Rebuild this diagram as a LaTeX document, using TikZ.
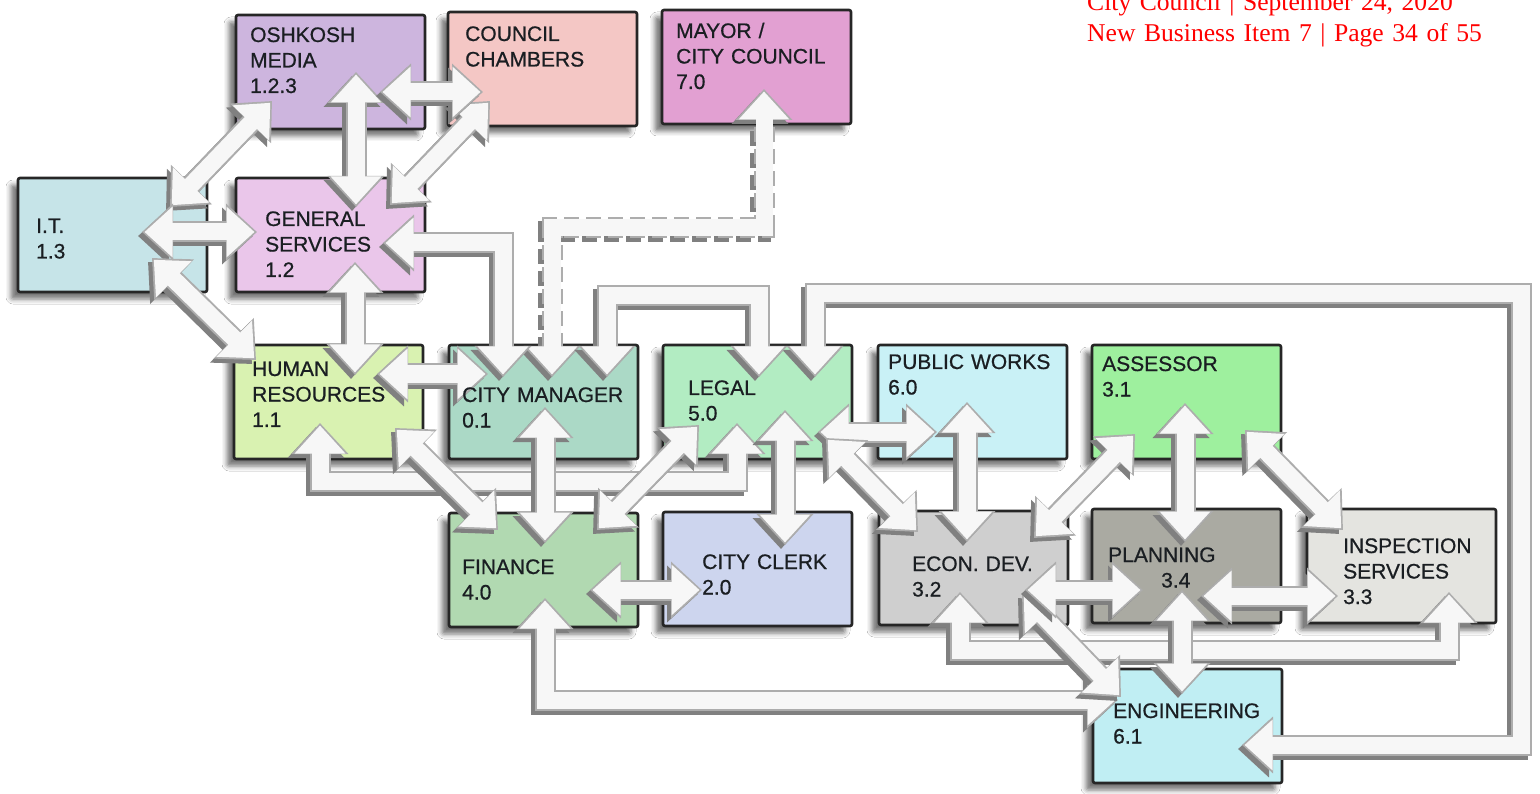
\documentclass[tikz,border=0pt]{standalone}
\usepackage{fontspec}
\setmainfont{Liberation Sans}
\newfontfamily\lblfont{Liberation Sans}[FakeBold=0.7]
\newfontfamily\redserif{Liberation Serif}
\usetikzlibrary{arrows.meta,calc,shadows.blur}
\definecolor{cOM}{HTML}{CDB5DE}
\definecolor{cCC}{HTML}{F4C7C5}
\definecolor{cMY}{HTML}{E2A0D2}
\definecolor{cIT}{HTML}{C6E4E8}
\definecolor{cGS}{HTML}{EAC6EA}
\definecolor{cHR}{HTML}{D9F2B1}
\definecolor{cCM}{HTML}{ABD9C6}
\definecolor{cLG}{HTML}{B2ECC2}
\definecolor{cPW}{HTML}{C9F1F6}
\definecolor{cAS}{HTML}{9EF09E}
\definecolor{cFN}{HTML}{B1D9B1}
\definecolor{cCL}{HTML}{CDD5EE}
\definecolor{cED}{HTML}{CFCFCF}
\definecolor{cPL}{HTML}{AAAAA2}
\definecolor{cIS}{HTML}{E4E4E0}
\definecolor{cEN}{HTML}{C0EEF3}
\definecolor{redhdr}{HTML}{FF0000}
\definecolor{lbltxt}{HTML}{1A1E22}
\tikzset{
  box/.style={draw=black!85, line width=2.6pt, rounded corners=2pt,
    minimum width=189pt, minimum height=114pt, anchor=north west,
    inner sep=0pt, outer sep=0pt,
    blur shadow={shadow xshift=-7pt, shadow yshift=-7pt, shadow blur radius=5pt, shadow opacity=55}},
  lbl/.style={anchor=base west, inner sep=0pt, align=left, text width=185pt,
    font=\lblfont\fontsize{21}{25.5}\selectfont, text=lbltxt},
  arS/.style={draw=black!50, line width=21pt, line join=miter,
    arrows={Triangle[length=31pt,width=55pt]-Triangle[length=31pt,width=55pt]},
    transform canvas={shift={(-4pt,-4pt)}}},
  arO/.style={draw=black!32, line width=21pt, line join=miter,
    arrows={Triangle[length=31pt,width=55pt]-Triangle[length=31pt,width=55pt]}},
  arI/.style={draw=white!97!black, line width=17pt, line join=miter,
    arrows={Triangle[length=28pt,width=49pt]-Triangle[length=28pt,width=49pt]},
    shorten >=2.5pt, shorten <=2.5pt},
  dsh/.style={dash pattern=on 15pt off 7pt}
}
\newcommand\fat[1]{\draw[arS] #1; \draw[arO] #1; \draw[arI] #1;}
\begin{document}
\begin{tikzpicture}[x=1pt,y=-1pt]
\useasboundingbox (0,0) rectangle (1540,794);
\clip (0,0) rectangle (1540,794);
\fill[white] (0,0) rectangle (1540,794);

% header
\node[anchor=base west, inner sep=0pt, align=left, text width=440pt,
  font=\redserif\fontsize{25.6}{31}\selectfont, text=redhdr] (hdr) at (1087,11)
  {City Council | September 24, 2020\\New Business Item 7 | Page 34 of 55};

% boxes
\node[box, fill=cOM] (om) at (236,15) {};
\node[box, fill=cCC] (cc) at (448,12) {};
\node[box, fill=cMY] (my) at (662,10) {};
\node[box, fill=cIT] (it) at (18,178) {};
\node[box, fill=cGS] (gs) at (236,178) {};
\node[box, fill=cHR] (hr) at (234,345) {};
\node[box, fill=cCM] (cm) at (449,345) {};
\node[box, fill=cLG] (lg) at (663,345) {};
\node[box, fill=cPW] (pw) at (878,345) {};
\node[box, fill=cAS] (as) at (1092,345) {};
\node[box, fill=cFN] (fn) at (449,513) {};
\node[box, fill=cCL] (cl) at (663,512) {};
\node[box, fill=cED] (ed) at (879,511) {};
\node[box, fill=cPL] (pl) at (1092,509) {};
\node[box, fill=cIS] (is) at (1307,509) {};
\node[box, fill=cEN] (en) at (1093,669) {};

% connectors
\fat{($(fn.north west)+(96,85)$) |- ($(en.north west)+(25,31)$)}
\fat{($(ed.north west)+(81,81)$) -- ++(0,58) -| ($(is.north west)+(142,83)$)}
\fat{($(lg.north west)+(152,32)$) -- ++(0,-83) -- ++(706,0) |- ($(en.north west)+(149,76)$)}
\fat{($(hr.north west)+(86,78)$) -- ++(0,58) -| ($(lg.north west)+(74,78)$)}
\draw[arS,dsh] ($(cm.north west)+(103,32)$) -- ++(0,-149) -| ($(my.north west)+(102,79)$);
\draw[arO,dsh] ($(cm.north west)+(103,32)$) -- ++(0,-149) -| ($(my.north west)+(102,79)$);
\draw[arI] ($(cm.north west)+(103,32)$) -- ++(0,-149) -| ($(my.north west)+(102,79)$);
\fat{($(gs.north west)+(147,65)$) -| ($(cm.north west)+(54,32)$)}
\fat{($(cm.north west)+(158,32)$) -- ++(0,-81) -| ($(lg.north west)+(96,32)$)}
\fat{($(it.north west)+(152,29)$) -- ($(om.north west)+(36,86)$)}
\fat{($(gs.north west)+(154,27)$) -- ($(cc.north west)+(42,89)$)}
\fat{($(gs.north west)+(120,29)$) -- ($(om.north west)+(120,57)$)}
\fat{($(om.north west)+(144,77)$) -- ($(cc.north west)+(35,80)$)}
\fat{($(it.north west)+(124,54)$) -- ($(gs.north west)+(21,54)$)}
\fat{($(it.north west)+(134,80)$) -- ($(hr.north west)+(22,15)$)}
\fat{($(gs.north west)+(119,84)$) -- ($(hr.north west)+(121,30)$)}
\fat{($(hr.north west)+(143,29)$) -- ($(cm.north west)+(39,29)$)}
\fat{($(hr.north west)+(161,83)$) -- ($(fn.north west)+(49,17)$)}
\fat{($(cm.north west)+(96,62)$) -- ($(fn.north west)+(96,30)$)}
\fat{($(fn.north west)+(148,17)$) -- ($(lg.north west)+(36,80)$)}
\fat{($(lg.north west)+(122,65)$) -- ($(cl.north west)+(122,33)$)}
\fat{($(lg.north west)+(155,87)$) -- ($(pw.north west)+(59,87)$)}
\fat{($(lg.north west)+(163,93)$) -- ($(ed.north west)+(39,21)$)}
\fat{($(pw.north west)+(89,57)$) -- ($(ed.north west)+(88,31)$)}
\fat{($(ed.north west)+(155,27)$) -- ($(as.north west)+(43,89)$)}
\fat{($(as.north west)+(93,58)$) -- ($(pl.north west)+(93,33)$)}
\fat{($(as.north west)+(153,85)$) -- ($(is.north west)+(36,21)$)}
\fat{($(fn.north west)+(141,77)$) -- ($(cl.north west)+(39,78)$)}
\fat{($(ed.north west)+(143,83)$) -- ($(en.north west)+(28,28)$)}
\fat{($(ed.north west)+(146,79)$) -- ($(pl.north west)+(51,81)$)}
\fat{($(pl.north west)+(109,87)$) -- ($(is.north west)+(31,87)$)}
\fat{($(pl.north west)+(90,81)$) -- ($(en.north west)+(89,25)$)}

% labels
\node[lbl] (om-t) at (250,42) {OSHKOSH\\MEDIA\\1.2.3};
\node[lbl] (cc-t) at (465,41) {COUNCIL\\CHAMBERS};
\node[lbl] (my-t) at (676,38) {MAYOR /\\CITY COUNCIL\\7.0};
\node[lbl] (it-t) at (36,233) {I.T.\\1.3};
\node[lbl] (gs-t) at (265,226) {GENERAL\\SERVICES\\1.2};
\node[lbl] (hr-t) at (252,376) {HUMAN\\RESOURCES\\1.1};
\node[lbl] (cm-t) at (462,402) {CITY MANAGER\\0.1};
\node[lbl] (lg-t) at (688,395) {LEGAL\\5.0};
\node[lbl] (pw-t) at (888,369) {PUBLIC WORKS\\6.0};
\node[lbl] (as-t) at (1102,371) {ASSESSOR\\3.1};
\node[lbl] (fn-t) at (462,574) {FINANCE\\4.0};
\node[lbl] (cl-t) at (702,569) {CITY CLERK\\2.0};
\node[lbl] (ed-t) at (912,571) {ECON. DEV.\\3.2};
\node[lbl] (pl-t) at (1108,562) {PLANNING\\\hspace*{53pt}3.4};
\node[lbl] (is-t) at (1343,553) {INSPECTION\\SERVICES\\3.3};
\node[lbl] (en-t) at (1113,718) {ENGINEERING\\6.1};
\end{tikzpicture}
\end{document}
